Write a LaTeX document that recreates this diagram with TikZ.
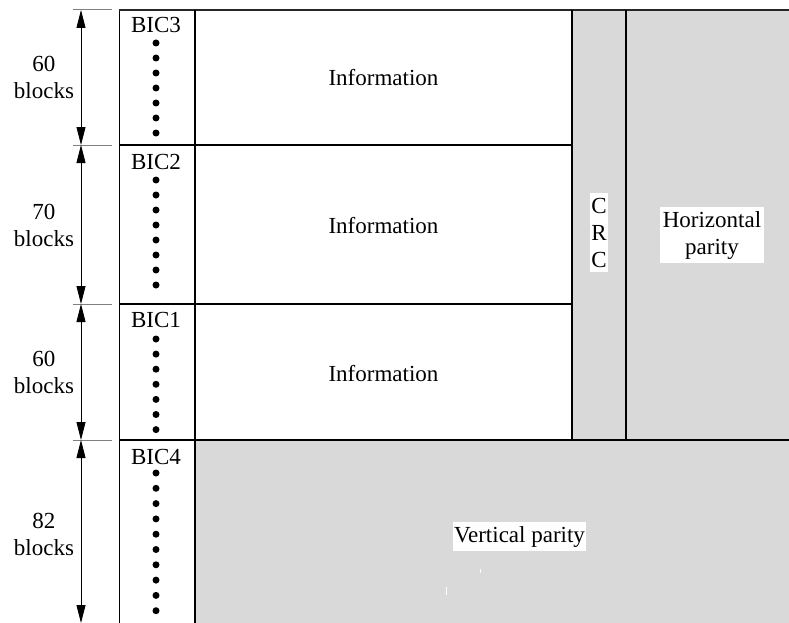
\documentclass[tikz,border=0pt]{standalone}
\usepackage{fontspec}
\setmainfont{Liberation Serif}
\usetikzlibrary{arrows.meta}
\definecolor{pgray}{HTML}{D9D9D9}
\definecolor{tickgray}{HTML}{808080}
\begin{document}
\begin{tikzpicture}[x=1pt,y=-1pt,
  lbl/.style={font=\fontsize{23}{27}\selectfont, align=center, inner sep=0pt, anchor=base},
  wlbl/.style={lbl, fill=white, inner xsep=2pt, inner ysep=4pt},
  divider/.style={line width=2pt, black},
  dimtick/.style={line width=1pt, tickgray},
  dimarrow/.style={line width=0.9pt, black, {Triangle[length=18pt,width=9pt]}-{Triangle[length=18pt,width=9pt]}},
  bdot/.style={fill=black}]
\useasboundingbox (0,0) rectangle (789,623);
% grey areas
\fill[pgray] (572,10) rectangle (789,440);
\fill[pgray] (195,440) rectangle (789,623);
% stray marks
\draw[white, line width=0.8pt] (480,569) -- (480,573);
\draw[white, line width=0.8pt] (446,587) -- (446,595);
% frame
\draw[line width=1pt] (119,10) -- (119,623);
\draw[line width=1.6pt, black!85] (119,10) -- (789,10);
\draw[divider] (119,145) -- (572,145);
\draw[divider] (119,304) -- (572,304);
\draw[divider] (119,440) -- (789,440);
\draw[divider] (195,10) -- (195,623);
\draw[divider] (572,10) -- (572,440);
\draw[divider] (626,10) -- (626,440);
% dimension coordinates
\coordinate (t0) at (81,10);
\coordinate (t1) at (81,145);
\coordinate (t2) at (81,304);
\coordinate (t3) at (81,440);
\coordinate (t4) at (81,623);
\foreach \y in {10,145,304,440} \draw[dimtick] (73,\y) -- (112,\y);
\draw[dimarrow] (t0) -- (t1);
\draw[dimarrow] (t1) -- (t2);
\draw[dimarrow] (t2) -- (t3);
\draw[dimarrow] (t3) -- (t4);
% dimension labels (base = baseline of last line)
\node[lbl] (d1) at (44,99) {60\\blocks};
\node[lbl] (d2) at (44,246) {70\\blocks};
\node[lbl] (d3) at (44,393) {60\\blocks};
\node[lbl] (d4) at (44,555) {82\\blocks};
% BIC labels
\node[lbl] (b3) at (156,33) {BIC3};
\node[lbl] (b2) at (156,169) {BIC2};
\node[lbl] (b1) at (156,327) {BIC1};
\node[lbl] (b4) at (156,464) {BIC4};
% dots
\foreach \i in {0,...,6} \fill[bdot] (156,43+15*\i) circle (3.5pt);
\foreach \i in {0,...,7} \fill[bdot] (156,180+15*\i) circle (3.5pt);
\foreach \i in {0,...,6} \fill[bdot] (156,339+15.1*\i) circle (3.5pt);
\foreach \i in {0,...,9} \fill[bdot] (156,473+15.3*\i) circle (3.5pt);
% information
\node[lbl] (i1) at (383.5,86) {Information};
\node[lbl] (i2) at (383.5,233) {Information};
\node[lbl] (i3) at (383.5,381) {Information};
% CRC and parities
\node[wlbl, inner xsep=1pt, inner ysep=5pt] (crc) at (599,267) {C\\R\\C};
\node[wlbl, inner xsep=2.5pt] (hp) at (712,254) {Horizontal\\parity};
\node[wlbl, inner xsep=1pt] (vp) at (519.5,542) {Vertical parity};
\end{tikzpicture}
\end{document}
